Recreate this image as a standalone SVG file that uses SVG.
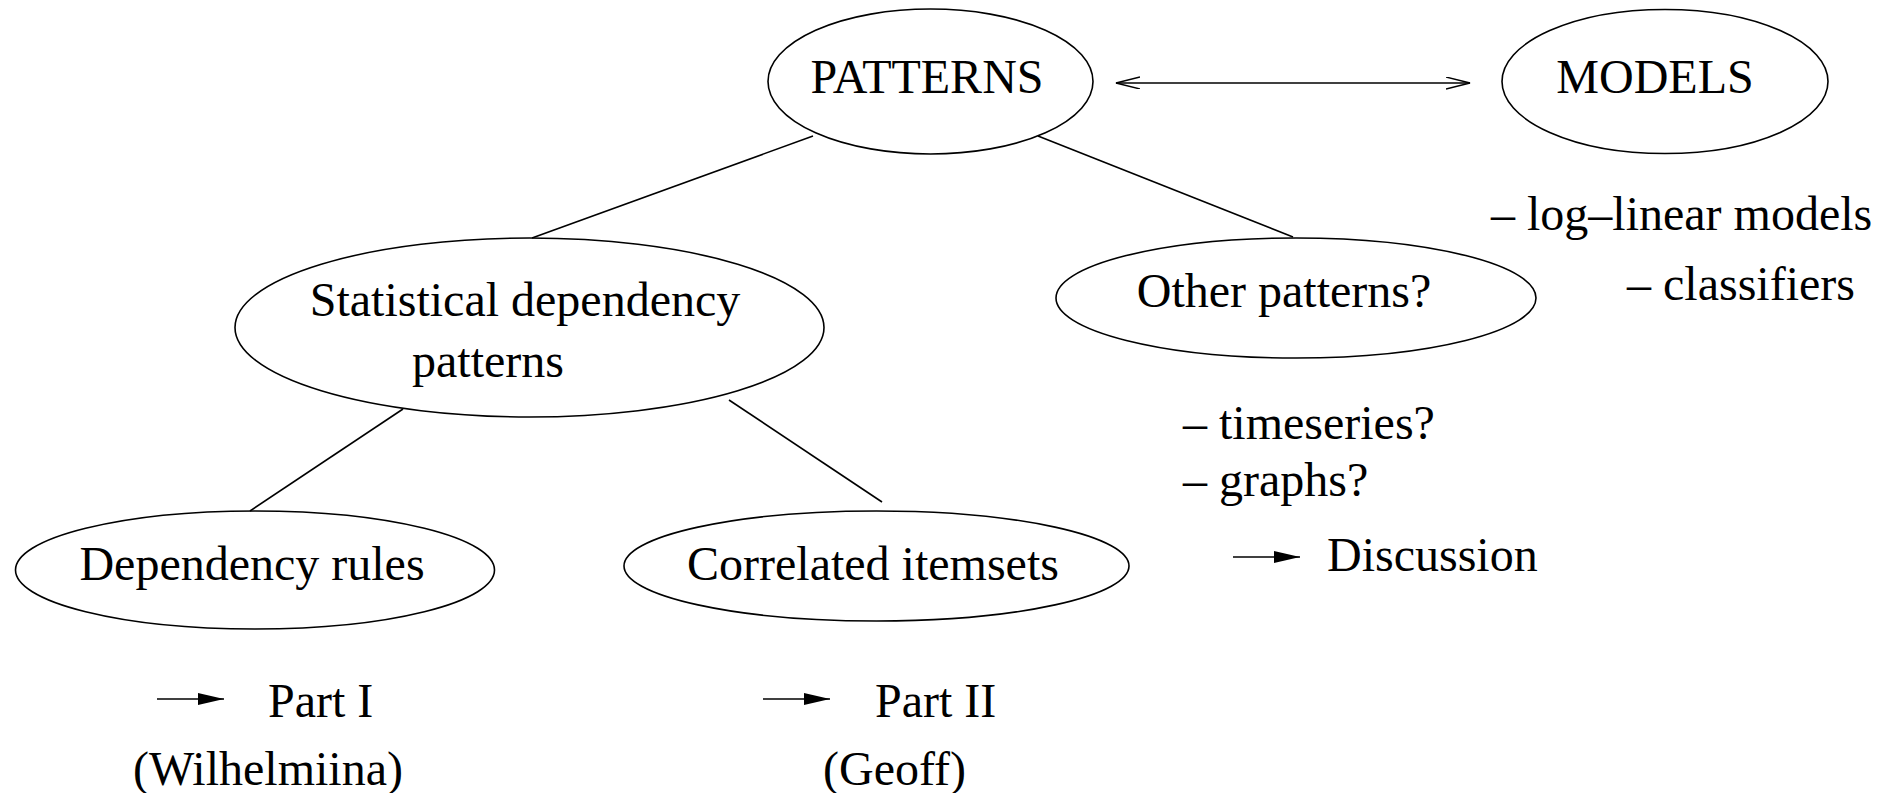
<svg xmlns="http://www.w3.org/2000/svg" width="1898" height="793" viewBox="0 0 1898 793">
<style>
text{font-family:"Liberation Serif","Times New Roman",serif;font-size:48px;fill:#000}
.n{text-anchor:middle}
ellipse{fill:none;stroke:#000;stroke-width:1.6}
.c line{stroke:#000;stroke-width:1.6}
</style>
<defs>
<marker id="open" markerUnits="userSpaceOnUse" markerWidth="28" markerHeight="16" refX="24" refY="6" orient="auto-start-reverse">
<path d="M0,0 L24,6 L0,12" fill="none" stroke="#000" stroke-width="1.4"/>
</marker>
<marker id="solid" markerUnits="userSpaceOnUse" markerWidth="28" markerHeight="14" refX="26" refY="6" orient="auto">
<path d="M0,0 L26,6 L0,12 Z" fill="#000"/>
</marker>
</defs>
<rect width="1898" height="793" fill="#fff"/>
<g class="c" id="connectors">
<line x1="1116" y1="83" x2="1470" y2="83" marker-start="url(#open)" marker-end="url(#open)"/>
<line x1="813" y1="136" x2="532" y2="238"/>
<line x1="1038" y1="136" x2="1293" y2="237"/>
<line x1="403" y1="409" x2="250" y2="511"/>
<line x1="729" y1="400" x2="882" y2="502"/>
<line x1="157" y1="699" x2="224" y2="699" marker-end="url(#solid)"/>
<line x1="763" y1="699" x2="830" y2="699" marker-end="url(#solid)"/>
<line x1="1233" y1="557" x2="1300" y2="557" marker-end="url(#solid)"/>
</g>
<g id="patterns">
<ellipse cx="930.5" cy="81.5" rx="162.5" ry="72.5"/>
<text class="n" x="927" y="93">PATTERNS</text>
</g>
<g id="models">
<ellipse cx="1665" cy="81.5" rx="163" ry="72"/>
<text class="n" x="1655" y="93">MODELS</text>
</g>
<g id="statistical">
<ellipse cx="529.5" cy="327.5" rx="294.5" ry="89.5"/>
<text class="n" x="525" y="316">Statistical dependency</text>
<text class="n" x="488" y="377">patterns</text>
</g>
<g id="other">
<ellipse cx="1296" cy="298" rx="240" ry="60"/>
<text class="n" x="1284" y="307">Other patterns?</text>
</g>
<g id="deprules">
<ellipse cx="255" cy="570" rx="239.5" ry="59"/>
<text class="n" x="252" y="580">Dependency rules</text>
</g>
<g id="correlated">
<ellipse cx="876.5" cy="566" rx="252.5" ry="55"/>
<text class="n" x="873" y="580">Correlated itemsets</text>
</g>
<g id="notes">
<text x="1491" y="230">– log–linear models</text>
<text x="1627" y="300">– classifiers</text>
<text x="1183" y="439">– timeseries?</text>
<text x="1183" y="496">– graphs?</text>
<text x="1327" y="571">Discussion</text>
<text x="268" y="717">Part I</text>
<text x="875" y="717">Part II</text>
<text x="133" y="785">(Wilhelmiina)</text>
<text x="823" y="785">(Geoff)</text>
</g>
</svg>
